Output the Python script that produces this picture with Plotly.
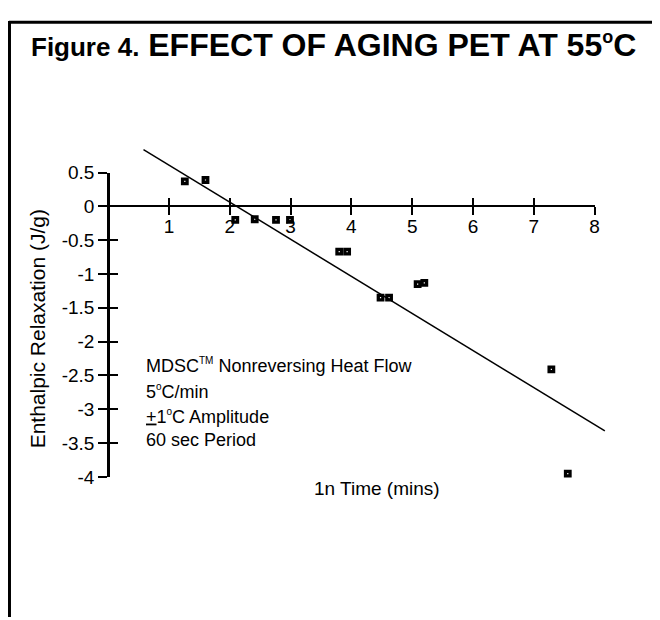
import plotly.graph_objects as go

# ---------------- data ----------------
time_ln = [1.26, 1.60, 2.09, 2.41, 2.76, 2.99, 3.80, 3.93, 4.48, 4.62, 5.09, 5.20, 7.29, 7.56]
enthalpy = [0.37, 0.39, -0.20, -0.19, -0.20, -0.20, -0.67, -0.67, -1.35, -1.35, -1.15, -1.13, -2.41, -3.95]
fit_x = [0.58, 8.17]
fit_y = [0.84, -3.32]
x_ticks = [1, 2, 3, 4, 5, 6, 7, 8]
x_tick_labels = ["1", "2", "3", "4", "5", "6", "7", "8"]
y_ticks = [0.5, 0, -0.5, -1, -1.5, -2, -2.5, -3, -3.5, -4]
y_tick_labels = ["0.5", "0", "-0.5", "-1", "-1.5", "-2", "-2.5", "-3", "-3.5", "-4"]
title_small = "Figure 4."
title_main = "EFFECT OF AGING PET AT 55<sup><span style='font-size:18px'>o</span></sup>C"
x_title = "1n Time (mins)"
y_title = "Enthalpic Relaxation (J/g)"
notes = [
    "MDSC<sup><span style='font-size:10px'>TM</span></sup> Nonreversing Heat Flow",
    "5<sup><span style='font-size:10px'>o</span></sup>C/min",
    "<u>+</u>1<sup><span style='font-size:10px'>o</span></sup>C Amplitude",
    "60 sec Period",
]

# ---------------- layout geometry (pixels on the screenshot) ----------------
W, H = 660, 620
OFF = 8               # page body margin of the viewer
X0, XS = 109, 61.25   # pixel of x=0, pixels per unit
Y0, YS = 203, 70      # pixel of y=0, pixels per unit
FONT = "Liberation Sans, Arial, Helvetica, sans-serif"


def fx(px):
    return (px - OFF) / W


def fy(py):
    return 1 - (py - OFF) / H


def px_of_x(v):
    return X0 + XS * v


def py_of_y(v):
    return Y0 - YS * v


data_xr = [0, 8.6]
data_yr = [-4.4, 1.0]
disp_xr = [0, max(x_ticks)]
disp_yr = [min(y_ticks), max(y_ticks)]

fig = go.Figure()

fig.add_trace(go.Scatter(
    x=fit_x, y=fit_y, mode="lines",
    line=dict(color="black", width=1.5),
    xaxis="x", yaxis="y", showlegend=False, hoverinfo="skip",
))
fig.add_trace(go.Scatter(
    x=time_ln, y=enthalpy, mode="markers",
    marker=dict(symbol="square-open", size=4.5, color="black",
                line=dict(color="black", width=3.3)),
    xaxis="x", yaxis="y", showlegend=False, cliponaxis=False,
))
# empty traces so the display axes are drawn
fig.add_trace(go.Scatter(x=[None], y=[None], xaxis="x2", yaxis="y2", showlegend=False, hoverinfo="skip"))
fig.add_trace(go.Scatter(x=[None], y=[None], xaxis="x3", yaxis="y3", showlegend=False, hoverinfo="skip"))

tickfont = dict(family=FONT, size=19, color="black")

fig.update_layout(
    width=W, height=H,
    margin=dict(l=0, r=0, t=0, b=0),
    paper_bgcolor="white", plot_bgcolor="rgba(0,0,0,0)",
    font=dict(family=FONT, color="black"),
    xaxis=dict(domain=[fx(px_of_x(data_xr[0])), fx(px_of_x(data_xr[1]))],
               range=data_xr, visible=False, anchor="y"),
    yaxis=dict(domain=[fy(py_of_y(data_yr[0])), fy(py_of_y(data_yr[1]))],
               range=data_yr, visible=False, anchor="x"),
    # displayed x axis at y = 0 (ticks down + labels)
    xaxis2=dict(domain=[fx(px_of_x(disp_xr[0])), fx(px_of_x(disp_xr[1]))],
                range=disp_xr, anchor="free", position=fy(py_of_y(0)),
                showline=True, linecolor="black", linewidth=2,
                ticks="outside", ticklen=8, tickwidth=1.5, tickcolor="black",
                tickvals=x_ticks, ticktext=x_tick_labels, tickfont=tickfont,
                ticklabelstandoff=-5,
                showgrid=False, zeroline=False, fixedrange=True),
    # ticks upward
    xaxis3=dict(domain=[fx(px_of_x(disp_xr[0])), fx(px_of_x(disp_xr[1]))],
                range=disp_xr, anchor="free", position=fy(py_of_y(0)),
                showline=False, ticks="inside", ticklen=8, tickwidth=1.5,
                tickcolor="black", tickvals=x_ticks, showticklabels=False,
                showgrid=False, zeroline=False, fixedrange=True),
    # displayed y axis at x = 0
    yaxis2=dict(domain=[fy(py_of_y(disp_yr[0])), fy(py_of_y(disp_yr[1]))],
                range=disp_yr, anchor="free", position=fx(px_of_x(0)),
                showline=True, linecolor="black", linewidth=3,
                ticks="outside", ticklen=9, tickwidth=1.5, tickcolor="black",
                tickvals=y_ticks, ticktext=y_tick_labels, tickfont=tickfont,
                showgrid=False, zeroline=False, fixedrange=True),
    yaxis3=dict(domain=[fy(py_of_y(disp_yr[0])), fy(py_of_y(disp_yr[1]))],
                range=disp_yr, anchor="free", position=fx(px_of_x(0)),
                showline=False, ticks="inside", ticklen=9, tickwidth=1.5,
                tickcolor="black", tickvals=y_ticks, showticklabels=False,
                showgrid=False, zeroline=False, fixedrange=True),
)

annotations = [
    dict(text="<b><span style='font-size:26px'>" + title_small + "</span> " + title_main + "</b>",
         x=fx(336), y=fy(36), xref="paper", yref="paper",
         xanchor="center", yanchor="middle", showarrow=False,
         font=dict(family=FONT, size=32, color="black")),
    dict(text=y_title, textangle=-90,
         x=fx(37.5), y=fy(330), xref="paper", yref="paper",
         xanchor="center", yanchor="middle", showarrow=False,
         font=dict(family=FONT, size=21, color="black")),
    dict(text=x_title,
         x=fx(380), y=fy(495), xref="paper", yref="paper",
         xanchor="center", yanchor="middle", showarrow=False,
         font=dict(family=FONT, size=19, color="black")),
]
note_centers = [368, 395, 420, 445]
for txt, cy in zip(notes, note_centers):
    annotations.append(dict(
        text=txt, x=fx(145), y=fy(cy), xref="paper", yref="paper",
        xanchor="left", yanchor="middle", showarrow=False,
        font=dict(family=FONT, size=18, color="black")))
fig.update_layout(annotations=annotations)

# frame (top and left border)
fig.add_shape(type="line", xref="paper", yref="paper",
              x0=fx(9), x1=1.0, y0=fy(12.5), y1=fy(12.5),
              line=dict(color="black", width=3))
fig.add_shape(type="line", xref="paper", yref="paper",
              x0=fx(9.5), x1=fx(9.5), y0=fy(11), y1=0,
              line=dict(color="black", width=3))

fig.write_html("out.html")
